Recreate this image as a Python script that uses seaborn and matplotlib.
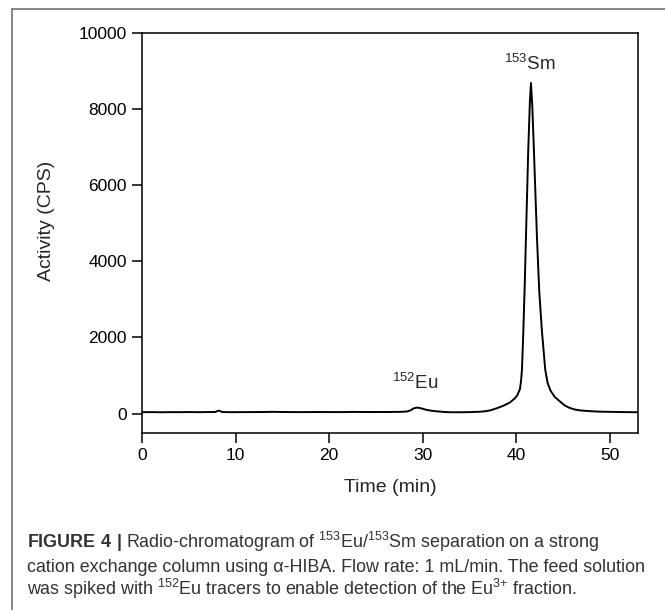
import numpy as np
import pandas as pd
import matplotlib
matplotlib.use("Agg")
import matplotlib.pyplot as plt
from matplotlib.lines import Line2D
import seaborn as sns

# radio-chromatogram
time = [0, 1, 2, 3, 4, 5, 6, 7, 7.8, 8.2, 8.6, 9.5, 11, 13, 14, 15, 17, 19,
        21, 22.5, 24, 26, 27.5, 28.3, 28.7, 29.0, 29.4, 29.8, 30.3, 30.8,
        31.5, 32.3, 33.0, 34, 35, 36, 36.6, 37.2, 37.9, 38.6, 39.3, 39.8,
        40.1, 40.38, 40.5, 40.6, 40.74, 40.9, 41.03, 41.27, 41.45, 41.56,
        41.7, 41.88, 42.05, 42.2, 42.45, 42.74, 43.09, 43.35, 43.66, 44.1,
        44.66, 45.2, 45.7, 46.2, 46.8, 47.8, 48.9, 50.3, 51.5, 53]
activity = [38, 40, 36, 39, 38, 42, 38, 42, 42, 80, 42, 38, 40, 42, 47, 42,
            40, 42, 40, 45, 42, 43, 46, 55, 85, 135, 160, 142, 105, 80,
            60, 44, 36, 36, 40, 48, 60, 85, 140, 205, 290, 390,
            480, 640, 850, 1150, 2100, 3400, 4650, 6900, 8200, 8680,
            8100, 6900, 5700, 4650, 3200, 2150, 1150, 800, 600, 440,
            320, 210, 150, 110, 85, 65, 52, 45, 40, 36]

x_ticks = [0, 10, 20, 30, 40, 50]
y_ticks = [0, 2000, 4000, 6000, 8000, 10000]

df = pd.DataFrame({"time": time, "activity": activity})

sns.set_theme(style="ticks")
plt.rcParams["font.family"] = ["Liberation Sans", "DejaVu Sans"]
plt.rcParams["mathtext.fontset"] = "custom"
plt.rcParams["mathtext.rm"] = "Liberation Sans"
plt.rcParams["mathtext.bf"] = "Liberation Sans:bold"

fig = plt.figure(figsize=(6.65, 6.1), dpi=100)
ax = fig.add_axes([0.2135, 0.2907, 0.7459, 0.6557])

sns.lineplot(data=df, x="time", y="activity", color="black", lw=1.4, ax=ax)

ax.set_xlim(0, 53)
ax.set_ylim(-500, 10000)
ax.set_xticks(x_ticks)
ax.set_yticks(y_ticks)
for s in ax.spines.values():
    s.set_color("black")
    s.set_linewidth(1.1)
ax.tick_params(axis="both", direction="out", length=7, width=1.1,
               labelsize=12.5, colors="black", pad=4)
ax.set_xlabel("Time (min)", fontsize=14)
ax.set_ylabel("Activity (CPS)", fontsize=14)
ax.xaxis.set_label_coords(0.5, -0.117)
ax.yaxis.set_label_coords(-0.175, 0.53)

ax.text(38.7, 9030, r"$\mathregular{^{153}}$Sm", fontsize=13.5, va="baseline")
ax.text(26.7, 640, r"$\mathregular{^{152}}$Eu", fontsize=13.5, va="baseline")

# caption
cap = [
    r"$\mathbf{FIGURE\ 4\ |}$ Radio-chromatogram of $\mathregular{^{153}}$Eu/$\mathregular{^{153}}$Sm separation on a strong",
    "cation exchange column using \u03b1-HIBA. Flow rate: 1 mL/min. The feed solution",
    r"was spiked with $\mathregular{^{152}}$Eu tracers to enable detection of the Eu$\mathregular{^{3{+}}}$ fraction.",
]
for i, line in enumerate(cap):
    fig.text(27 / 665, 1 - (548 + 23.5 * i) / 610, line, fontsize=12.9,
             color="#333333", va="baseline", ha="left")

# frame around figure panel
fig.add_artist(Line2D([12 / 665, 12 / 665], [0, 1 - 8.5 / 610],
                      transform=fig.transFigure, color="#666666", lw=1.1))
fig.add_artist(Line2D([12 / 665, 1], [1 - 8.5 / 610, 1 - 8.5 / 610],
                      transform=fig.transFigure, color="#666666", lw=1.1))

fig.savefig("out.png", dpi=100)
